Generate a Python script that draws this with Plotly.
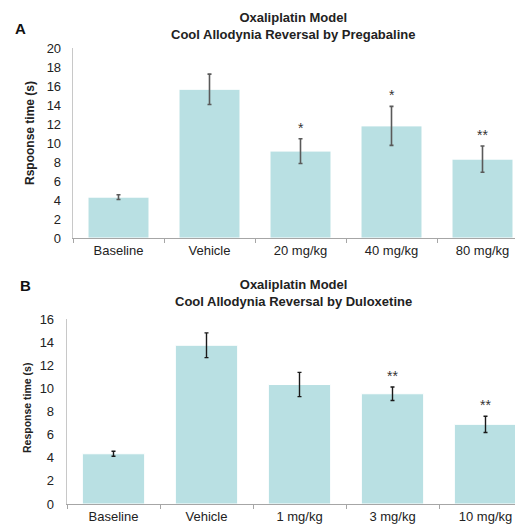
import plotly.graph_objects as go

# Panel A data
cats_a = ["Baseline", "Vehicle", "20 mg/kg", "40 mg/kg", "80 mg/kg"]
vals_a = [4.3, 15.65, 9.15, 11.8, 8.3]
errs_a = [0.25, 1.6, 1.3, 2.05, 1.38]
sig_a = ["", "", "*", "*", "**"]
yticks_a = [0, 2, 4, 6, 8, 10, 12, 14, 16, 18, 20]

# Panel B data
cats_b = ["Baseline", "Vehicle", "1 mg/kg", "3 mg/kg", "10 mg/kg"]
vals_b = [4.35, 13.75, 10.35, 9.55, 6.9]
errs_b = [0.22, 1.07, 1.05, 0.58, 0.7]
sig_b = ["", "", "", "**", "**"]
yticks_b = [0, 2, 4, 6, 8, 10, 12, 14, 16]

W, H = 515, 526
FONT = "Liberation Sans, Arial, sans-serif"
BAR = "#b9e0e3"
AXIS = "#a6a6a6"

fig = go.Figure()
fig.add_trace(go.Bar(
    x=cats_a, y=vals_a, xaxis="x", yaxis="y",
    marker=dict(color=BAR, line=dict(color="white", width=1)),
    error_y=dict(type="data", array=errs_a, color="#5a5a5a", thickness=1.6, width=2),
    showlegend=False, hoverinfo="skip"))
fig.add_trace(go.Bar(
    x=cats_b, y=vals_b, xaxis="x2", yaxis="y2",
    marker=dict(color=BAR, line=dict(color="white", width=1)),
    error_y=dict(type="data", array=errs_b, color="#1a1a1a", thickness=1.4, width=2),
    showlegend=False, hoverinfo="skip"))

ann = []
for c, v, e, s in zip(cats_a, vals_a, errs_a, sig_a):
    if s:
        ann.append(dict(x=c, y=v + e, xref="x", yref="y", text=s, showarrow=False,
                        xanchor="center", yanchor="bottom", yshift=1,
                        font=dict(family=FONT, size=14, color="#333")))
for c, v, e, s in zip(cats_b, vals_b, errs_b, sig_b):
    if s:
        ann.append(dict(x=c, y=v + e, xref="x2", yref="y2", text=s, showarrow=False,
                        xanchor="center", yanchor="bottom", yshift=1,
                        font=dict(family=FONT, size=14, color="#333")))

def px(x, y):
    return x / W, 1 - y / H

def label(x, y, text, size, angle=0, color="#222"):
    fx, fy = px(x, y)
    ann.append(dict(x=fx, y=fy, xref="paper", yref="paper", showarrow=False, align="center",
                    xanchor="center", yanchor="middle", textangle=angle, text=text,
                    font=dict(family=FONT, size=size, color=color)))

label(293, 26, "<b>Oxaliplatin Model<br>Cool Allodynia Reversal by Pregabaline</b>", 13)
label(293, 293, "<b>Oxaliplatin Model<br>Cool Allodynia Reversal by Duloxetine</b>", 13)
label(20, 28, "<b>A</b>", 15, color="#111")
label(25, 285, "<b>B</b>", 15, color="#111")
label(30, 133, "<b>Rspoonse time (s)</b>", 12, angle=-90)
label(27, 408, "<b>Response time (s)</b>", 10.5, angle=-90)

xcommon = dict(showline=True, linecolor=AXIS, linewidth=1.3, ticks="outside", tickson="boundaries",
               ticklen=4, tickcolor=AXIS, showgrid=False, automargin=False,
               tickfont=dict(size=13, color="#222"))
ycommon = dict(showline=True, linecolor="#c8c8c8", linewidth=1.3, showgrid=False, zeroline=False,
               ticks="", automargin=False, tickfont=dict(size=13, color="#222"))

fig.update_layout(
    width=W, height=H, margin=dict(l=0, r=0, t=0, b=0, autoexpand=False),
    paper_bgcolor="white", plot_bgcolor="white",
    bargap=0.33, hovermode=False,
    font=dict(family=FONT, size=13, color="#333"),
    annotations=ann,
    xaxis=dict(domain=[73 / W, 1], anchor="y", range=[-0.5, -0.5 + 442 / 91], **xcommon),
    yaxis=dict(domain=[1 - 238 / H, 1 - 48 / H], anchor="x", range=[0, 20], tickvals=yticks_a,
               ticklabelstandoff=8, **ycommon),
    xaxis2=dict(domain=[67 / W, 1], anchor="y2", range=[-0.5, -0.5 + 448 / 93], **xcommon),
    yaxis2=dict(domain=[1 - 504 / H, 1 - 319.3 / H], anchor="x2", range=[0, 16], tickvals=yticks_b,
                ticklabelstandoff=9, **ycommon),
)

fig.write_html("out.html", config={"displayModeBar": False, "staticPlot": True},
               post_script="document.body.style.margin='0px';document.body.style.overflow='hidden';")
